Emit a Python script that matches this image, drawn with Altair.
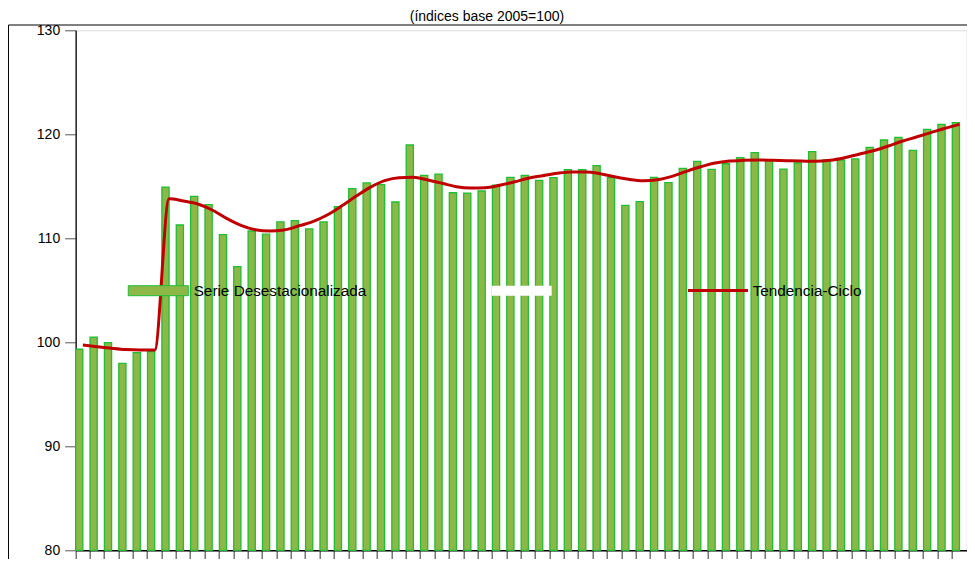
import altair as alt
import pandas as pd

titulo = "(índices base 2005=100)"
serie_label = "Serie Desestacionalizada"
tend_label = "Tendencia-Ciclo"

periodos = list(range(1, 63))
serie = [99.33, 100.5, 99.96, 97.98, 99.0, 99.1, 114.93, 111.28, 114.04, 113.23,
         110.35, 107.27, 110.7, 110.4, 111.57, 111.7, 110.9, 111.57, 113.04, 114.77,
         115.32, 115.16, 113.49, 118.97, 116.06, 116.18, 114.38, 114.35, 114.55, 115.12,
         115.86, 116.06, 115.57, 115.83, 116.6, 116.6, 116.98, 115.83, 113.17, 113.52,
         115.86, 115.35, 116.73, 117.4, 116.63, 117.17, 117.75, 118.23, 117.53, 116.66,
         117.24, 118.33, 117.53, 117.53, 117.63, 118.75, 119.45, 119.71, 118.46, 120.48,
         120.96, 121.12]
tendencia = [99.73, 99.57, 99.42, 99.3, 99.26, 99.26, 113.8, 113.59, 113.3, 112.72,
             111.92, 111.25, 110.83, 110.7, 110.8, 111.18, 111.6, 112.24, 113.1, 114.04,
             114.9, 115.54, 115.83, 115.86, 115.6, 115.29, 114.96, 114.84, 114.87, 115.1,
             115.41, 115.77, 116.02, 116.25, 116.38, 116.38, 116.21, 115.92, 115.67, 115.54,
             115.64, 115.96, 116.44, 116.88, 117.24, 117.43, 117.5, 117.53, 117.5, 117.46,
             117.43, 117.4, 117.5, 117.75, 118.08, 118.42, 118.85, 119.33, 119.74, 120.16,
             120.58, 120.96]
y_ticks = [80, 90, 100, 110, 120, 130]

df = pd.DataFrame({"periodo": periodos, "serie": serie, "tendencia": tendencia})
one = pd.DataFrame({"t": [titulo]})

FONT = "Liberation Sans"
FILL = "#8DB848"
EDGE = "#1EBF34"
RED = "#C00000"

x_enc = alt.X("periodo:O", title=None,
              scale=alt.Scale(paddingInner=0, paddingOuter=0),
              axis=alt.Axis(labels=False, bandPosition=0, tickSize=11,
                            tickColor="#333333", domainColor="#000000",
                            domainWidth=1.5, tickWidth=1))
y_scale = alt.Scale(domain=[80, 130], zero=False, nice=False)
y_axis = alt.Axis(values=y_ticks, grid=False, tickSize=11, tickColor="#555555",
                  domainColor="#222222", domainWidth=1.5, labelFontSize=14,
                  labelFont=FONT, labelColor="#000000", labelPadding=5)

base = alt.Chart(df)

bars = base.mark_bar(width=alt.RelativeBandSize(0.5), xOffset=-3.6,
                     color=FILL, stroke=EDGE, strokeWidth=1.3).encode(
    x=x_enc,
    y=alt.Y("serie:Q", title=None, scale=y_scale, axis=y_axis),
    y2=alt.datum(80),
)

line = base.mark_line(color=RED, strokeWidth=3, interpolate="monotone").encode(
    x=alt.X("periodo:O"),
    y=alt.Y("tendencia:Q", scale=y_scale),
)

frame = alt.Chart(one).mark_rect(fillOpacity=0, stroke="#000000", strokeWidth=1).encode(
    x=alt.value(-67.2), x2=alt.value(905), y=alt.value(-5.3), y2=alt.value(545))

title = alt.Chart(one).mark_text(font=FONT, fontSize=14, align="center",
                                 baseline="alphabetic", color="#000000").encode(
    text="t:N", x=alt.value(411.3), y=alt.value(-9.6))

sw1 = alt.Chart(one).mark_rect(color=FILL, stroke=EDGE, strokeWidth=1).encode(
    x=alt.value(52.6), x2=alt.value(112.6), y=alt.value(255.4), y2=alt.value(265.4))
sw2 = alt.Chart(one).mark_rect(color="#FFFFFF").encode(
    x=alt.value(416), x2=alt.value(476), y=alt.value(255.4), y2=alt.value(265.4))
sw3 = alt.Chart(one).mark_rule(color=RED, strokeWidth=3).encode(
    x=alt.value(612.3), x2=alt.value(672.3), y=alt.value(260.2))
t1 = alt.Chart(one).mark_text(font=FONT, fontSize=15.3, align="left", baseline="middle",
                              color="#000000", text=serie_label).encode(
    x=alt.value(118), y=alt.value(261))
t2 = alt.Chart(one).mark_text(font=FONT, fontSize=15.3, align="left", baseline="middle",
                              color="#000000", text=tend_label).encode(
    x=alt.value(677), y=alt.value(261))

chart = alt.layer(bars, line, sw1, sw2, sw3, t1, t2, title, frame).properties(
    width=891, height=520,
    autosize=alt.AutoSizeParams(type="none"),
    padding={"left": 67.67, "top": 22.3, "right": 0.33, "bottom": 8.7},
).configure_view(stroke="#808080", strokeWidth=2).configure(background="#FFFFFF")

chart.save("out.html", embed_options={"renderer": "svg", "actions": False})
